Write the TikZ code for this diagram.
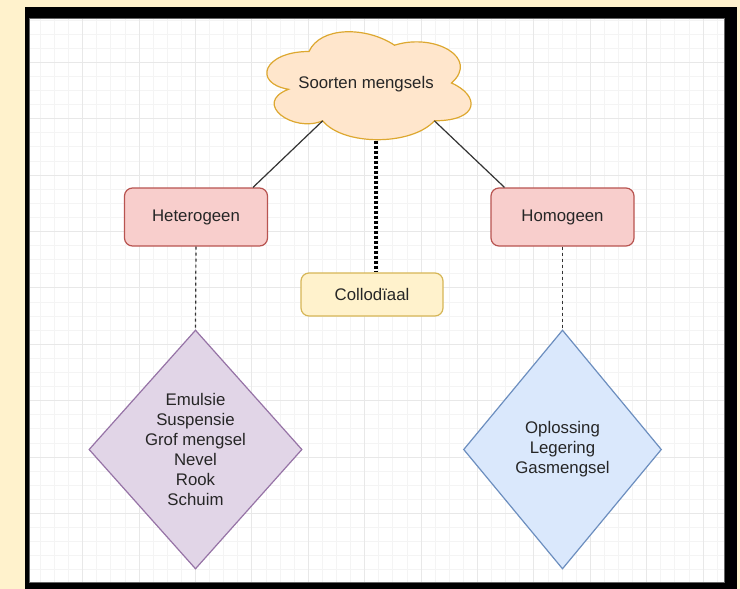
\documentclass[tikz,border=0pt]{standalone}
\usepackage{fontspec}
\setmainfont{Liberation Sans}
\usetikzlibrary{shapes.geometric}
\definecolor{page}{HTML}{FFF2CC}
\definecolor{gridminor}{HTML}{F4F4F4}
\definecolor{gridmajor}{HTML}{E8E8E8}
\definecolor{cloudfill}{HTML}{FFE6CC}
\definecolor{cloudline}{HTML}{DDA830}
\definecolor{redfill}{HTML}{F8CECC}
\definecolor{redline}{HTML}{B85450}
\definecolor{yellowfill}{HTML}{FFF2CC}
\definecolor{yellowline}{HTML}{D6B656}
\definecolor{purplefill}{HTML}{E1D5E7}
\definecolor{purpleline}{HTML}{9673A6}
\definecolor{bluefill}{HTML}{DAE8FC}
\definecolor{blueline}{HTML}{6C8EBF}

\begin{document}
\begin{tikzpicture}[x=1pt, y=-1pt,
    every node/.style={font=\fontsize{16.8}{20}\selectfont, text=black!85, align=center},
    box/.style={draw, rounded corners=8pt, line width=1.2pt, minimum width=143pt, minimum height=58pt},
    kind/.style={box, draw=redline, fill=redfill},
    colloid/.style={box, draw=yellowline, fill=yellowfill, minimum width=142pt, minimum height=43pt},
    ruit/.style={diamond, draw, line width=1.2pt, inner sep=0pt, minimum height=239pt},
    link/.style={draw=black!80, line width=1.2pt},
    dashlink/.style={link, dash pattern=on 3pt off 3pt},
    dotlink/.style={draw=black, line width=3.5pt, dash pattern=on 3pt off 2pt}]
    \useasboundingbox (0,0) rectangle (740,589);
    \fill[page] (0,0) rectangle (740,589);
    \fill[black] (25,7) rectangle (737,589);
    \fill[white] (29.3,18) rectangle (724,582);
    \foreach \k in {-3,...,45}
        \draw[gridminor, line width=1pt] ({82.7+14.1*\k},18) -- ++(0,564);
    \foreach \k in {-3,...,36}
        \draw[gridminor, line width=1pt] (29.3,{62.3+14.1*\k}) -- ++(694.7,0);
    \foreach \k in {0,4,...,44}
        \draw[gridmajor, line width=1pt] ({82.7+14.1*\k},18) -- ++(0,564);
    \foreach \k in {0,4,...,32}
        \draw[gridmajor, line width=1pt] (29.3,{62.3+14.1*\k}) -- ++(694.7,0);
    \draw[black!60, line width=1pt] (29.3,18) rectangle (724,582);

    \begin{scope}[shift={(252,20)}]
        \draw[cloudline, fill=cloudfill, line width=1.2pt]
            (57,31.5) .. controls (11.4,31.5) and (0,63) .. (36.48,69.3)
            .. controls (0,83.16) and (41.04,113.4) .. (70.68,100.8)
            .. controls (91.2,126) and (159.6,126) .. (182.4,100.8)
            .. controls (228,100.8) and (228,75.6) .. (199.5,63)
            .. controls (228,37.8) and (182.4,12.6) .. (142.5,25.2)
            .. controls (114,6.3) and (68.4,6.3) .. (57,31.5) -- cycle;
        \coordinate (cloud-sw) at (70.68,100.8);
        \coordinate (cloud-se) at (182.4,100.8);
        \coordinate (cloud-s) at (124,120.5);
    \end{scope}
    \node (cloud) at (366,84) {Soorten mengsels};

    \node[kind] (het) at (196,217) {Heterogeen};
    \node[kind] (hom) at (562.5,217) {Homogeen};
    \node[colloid] (col) at (372,294.5) {Collodïaal};
    \node[ruit, draw=purpleline, fill=purplefill, minimum width=212pt] (pur) at (195.5,449.5)
        {Emulsie\\Suspensie\\Grof mengsel\\Nevel\\Rook\\Schuim};
    \node[ruit, draw=blueline, fill=bluefill, minimum width=198pt] (blue) at (562.5,449.5)
        {Oplossing\\Legering\\Gasmengsel};

    \draw[link] (cloud-sw) -- ([xshift=57pt]het.north);
    \draw[link] (cloud-se) -- ([xshift=-58pt]hom.north);
    \draw[dotlink] (cloud-s) -- (cloud-s |- col.north);
    \draw[dashlink] (het.south) -- (pur.north);
    \draw[dashlink] (hom.south) -- (blue.north);
\end{tikzpicture}
\end{document}
